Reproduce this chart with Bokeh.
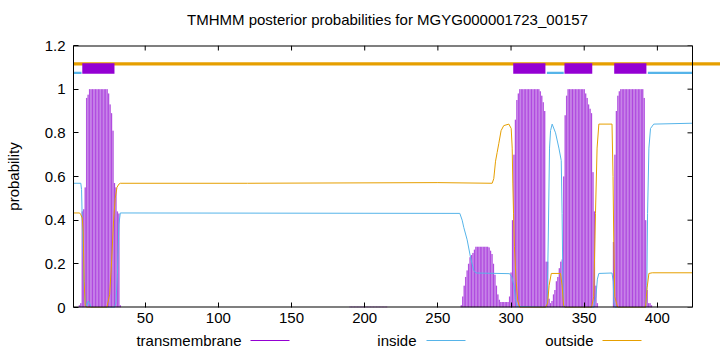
from bokeh.plotting import figure
from bokeh.models import Range1d, FixedTicker, NumeralTickFormatter, ColumnDataSource
from bokeh.layouts import column
from bokeh.core.properties import value
from bokeh.embed import file_html
from bokeh.resources import INLINE

# ---------------- data ----------------
title_text = "TMHMM posterior probabilities for MGYG000001723_00157"
seq_len = 424

# per-residue transmembrane posterior (residues 1..424)
tm_prob = ([0.0] * 4
           + [0.01, 0.02, 0.44, 0.45, 0.55, 0.96, 0.975]
           + [1.0] * 13
           + [0.98, 0.93, 0.89, 0.81, 0.57, 0.55, 0.44, 0.43, 0.01]
           + [0.0] * 156
           + [0.004] * 26
           + [0.0] * 50
           + [0.01, 0.05, 0.10, 0.14, 0.17, 0.20, 0.23, 0.24, 0.25, 0.265]
           + [0.278] * 9
           + [0.275, 0.26, 0.245, 0.20, 0.15, 0.10, 0.06, 0.035]
           + [0.025] * 6
           + [0.05, 0.16, 0.40, 0.70, 0.86, 0.95, 0.98]
           + [1.0] * 14
           + [0.99, 0.97, 0.94, 0.90, 0.21, 0.21, 0.04, 0.02, 0.03, 0.06,
              0.08, 0.12, 0.14, 0.18, 0.21, 0.22, 0.60, 0.88, 0.97]
           + [1.0] * 12
           + [0.98, 0.96, 0.93, 0.91, 0.89, 0.62, 0.44, 0.10, 0.02]
           + [0.0] * 10
           + [0.30, 0.70, 0.90, 0.97, 0.99]
           + [1.0] * 16
           + [0.96, 0.40, 0.08, 0.02, 0.02, 0.01]
           + [0.0] * 28)
residues = list(range(1, seq_len + 1))

# inside posterior (residue, probability)
inside_x = [1, 6, 6.5, 7.4, 8.3, 9, 10, 11, 12, 13, 29, 30, 31, 32, 33,
            265, 266.6, 267.7, 270, 272.3, 274.5, 276, 299, 300.5, 302, 303, 304,
            323.5, 324.7, 325.4, 326.3, 327, 328.1, 330.4, 332.7, 334.3, 334.9, 335.4, 335.9, 336.5,
            356.5, 358, 359, 360, 369, 369.8, 370.3, 371,
            392, 392.8, 393.3, 394.2, 395.3, 397.5, 424]
inside_y = [0.569, 0.569, 0.54, 0.28, 0.09, 0.03, 0.005, 0.03, 0.02, 0.0, 0.0, 0.02, 0.15, 0.38, 0.433,
            0.431, 0.40, 0.367, 0.31, 0.23, 0.17, 0.158, 0.155, 0.14, 0.10, 0.04, 0.005,
            0.0, 0.02, 0.30, 0.73, 0.81, 0.84, 0.80, 0.73, 0.673, 0.43, 0.12, 0.02, 0.0,
            0.0, 0.05, 0.13, 0.156, 0.158, 0.12, 0.02, 0.0,
            0.0, 0.10, 0.43, 0.73, 0.82, 0.84, 0.844]

# outside posterior (residue, probability)
outside_x = [1, 5.2, 6, 7, 7.6, 8.3, 9, 10, 23.8, 25.7, 26.8, 28.4, 29.5, 30.7, 32, 33,
             120, 250, 287.1, 288.2, 289.4, 290.5, 291.6, 293.2, 295, 298.5, 300.1, 300.8,
             301.2, 301.7, 302.3, 303.5, 304.6, 306,
             323.5, 325, 326, 327.5, 333.8, 334.9, 335.9, 337,
             355, 356.5, 357.7, 358.8, 360, 369, 369.7, 370.2, 370.9, 372.5, 373,
             391.9, 393, 394.2, 396.5, 424]
outside_y = [0.433, 0.433, 0.425, 0.41, 0.35, 0.12, 0.01, 0.0, 0.0, 0.06, 0.18, 0.40, 0.50, 0.55, 0.565, 0.569,
             0.569, 0.572, 0.569, 0.59, 0.67, 0.71, 0.75, 0.81, 0.833, 0.84, 0.82, 0.73,
             0.57, 0.43, 0.28, 0.12, 0.03, 0.0,
             0.0, 0.02, 0.10, 0.156, 0.156, 0.10, 0.01, 0.0,
             0.0, 0.05, 0.43, 0.73, 0.84, 0.84, 0.60, 0.30, 0.05, 0.01, 0.0,
             0.0, 0.09, 0.156, 0.159, 0.159]

# predicted topology
tm_start = [7, 301.5, 336.5, 370.5]
tm_end = [29, 323.5, 355.5, 392.5]
in_start = [1, 324.5, 393.5]
in_end = [6.5, 336, 424]

x_ticks = [50, 100, 150, 200, 250, 300, 350, 400]
y_ticks = [0, 0.2, 0.4, 0.6, 0.8, 1.0, 1.2]

legend_names = ["transmembrane", "inside", "outside"]
legend_colors = ["#9400D3", "#56B4E9", "#E69F00"]

# ---------------- styling constants ----------------
FONT = "Liberation Sans"
FS = "15px"
TM_COL = "#9400D3"
TM_LIGHT = "#cf9dec"
IN_COL = "#56B4E9"
OUT_COL = "#E69F00"
FRAME_L = 73
PX_PER_RES = (692 - FRAME_L) / (seq_len - 1)
X_END = seq_len + (720 - 692) / PX_PER_RES      # frame runs to the window edge
Y_MAX = 1.2
FRAME_H = 262
PX_PER_Y = FRAME_H / Y_MAX
TICK = 5

TITLE_H = 30
LEG_H = 24
MAIN_H = 352 - TITLE_H - LEG_H
MAIN_TOP = 45 - TITLE_H


def strip(h):
    # a text-only strip whose x coordinates are window pixels
    f = figure(width=720, height=h, x_range=Range1d(FRAME_L, 720), y_range=Range1d(0, h),
               output_backend="svg", toolbar_location=None, x_axis_type=None, y_axis_type=None,
               min_border=0, min_border_left=FRAME_L, min_border_right=0)
    f.outline_line_color = None
    f.xgrid.visible = False
    f.ygrid.visible = False
    f.background_fill_color = "white"
    f.border_fill_color = "white"
    return f


# title strip
top = strip(TITLE_H)
top.text(x=[387], y=[TITLE_H - 19], text=[title_text], text_align="center", text_baseline="middle",
         text_font=value(FONT), text_font_size=FS, text_color="black")

p = figure(width=720, height=MAIN_H, x_range=Range1d(1, X_END), y_range=Range1d(0, Y_MAX),
           output_backend="svg", toolbar_location=None,
           min_border_left=FRAME_L, min_border_right=0, min_border_top=MAIN_TOP,
           min_border_bottom=MAIN_H - FRAME_H - MAIN_TOP)
p.background_fill_color = "white"
p.border_fill_color = "white"
p.xgrid.visible = False
p.ygrid.visible = False
p.outline_line_color = None

xax = p.xaxis[0]
xax.ticker = FixedTicker(ticks=x_ticks)
xax.axis_line_color = None
yax = p.yaxis[0]
yax.ticker = FixedTicker(ticks=y_ticks)
yax.formatter = NumeralTickFormatter(format="0.[0]")
yax.axis_label = "probability"
yax.axis_label_text_font = FONT
yax.axis_label_text_font_size = FS
yax.axis_label_text_font_style = "normal"
yax.axis_label_text_color = "black"
yax.axis_label_standoff = 20
yax.axis_line_color = "black"
for ax in (xax, yax):
    ax.major_tick_in = TICK
    ax.major_tick_out = 0
    ax.minor_tick_line_color = None
    ax.major_label_text_font = FONT
    ax.major_label_text_font_size = FS
    ax.major_label_text_color = "black"
    ax.major_tick_line_color = "black"
xax.major_label_standoff = 5
yax.major_label_standoff = 8

# outside bar across the top (runs past the frame, as in the original)
p.quad(left=[1], right=[X_END], bottom=[1.108], top=[1.123], fill_color=OUT_COL, line_color=None)

src = ColumnDataSource(dict(x=residues, tm=tm_prob))
p.vbar(x="x", top="tm", width=1.0, bottom=0, source=src, fill_color=TM_LIGHT, line_color=None)
p.segment(x0="x", y0=0, x1="x", y1="tm", source=src, line_color=TM_COL, line_width=0.55)

p.line(inside_x, inside_y, line_color=IN_COL, line_width=1)
p.line(outside_x, outside_y, line_color=OUT_COL, line_width=1)

p.quad(left=in_start, right=in_end, bottom=1.069, top=1.080, fill_color=IN_COL, line_color=None)
p.quad(left=tm_start, right=tm_end, bottom=1.071, top=1.119, fill_color=TM_COL, line_color=None)

# frame box (bottom, top, right) ending at the last residue
p.segment(x0=[1, 1], y0=[0, Y_MAX], x1=[seq_len, seq_len], y1=[0, Y_MAX], line_color="black", line_width=2)
p.segment(x0=[seq_len], y0=[0], x1=[seq_len], y1=[Y_MAX], line_color="black", line_width=1)
# mirrored ticks on top and right
p.segment(x0=x_ticks, y0=[Y_MAX] * len(x_ticks), x1=x_ticks,
          y1=[Y_MAX - TICK / PX_PER_Y] * len(x_ticks), line_color="black", line_width=1)
p.segment(x0=[seq_len] * len(y_ticks), y0=y_ticks, x1=[seq_len - TICK / PX_PER_RES] * len(y_ticks),
          y1=y_ticks, line_color="black", line_width=1)

# legend strip (gnuplot style: text, then line sample), in window pixel coordinates
leg = strip(LEG_H)
leg_text_right = [241, 416, 593]
leg_line_start = [250, 426, 602]
leg_line_len = 39
leg_y = LEG_H - 12
leg.text(x=leg_text_right, y=[leg_y] * 3, text=legend_names, text_align="right",
         text_baseline="middle", text_font=value(FONT), text_font_size=FS, text_color="black")
leg.segment(x0=leg_line_start, y0=[leg_y] * 3, x1=[s + leg_line_len for s in leg_line_start],
            y1=[leg_y] * 3, line_color=legend_colors, line_width=1)

layout = column(top, p, leg, spacing=0)
open("out.html", "w").write(file_html(layout, INLINE))
